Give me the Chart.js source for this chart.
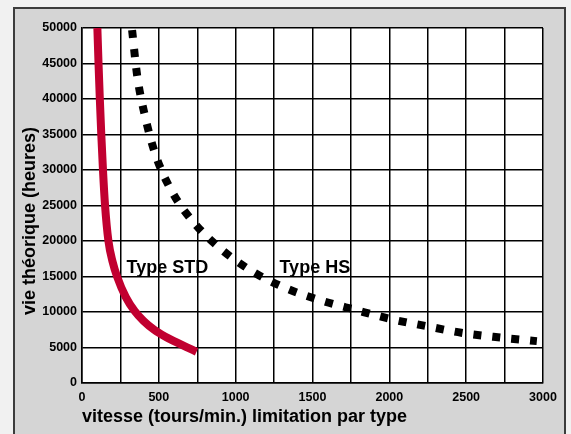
<!DOCTYPE html>
<html>
<head>
<meta charset="utf-8">
<script src="https://cdn.jsdelivr.net/npm/chart.js@4.4.1/dist/chart.umd.min.js"></script>
<style>
  html, body { margin: 0; padding: 0; }
  body { width: 571px; height: 434px; background: #f1f1f1; position: relative; overflow: hidden; }
  #panel {
    position: absolute; left: 13px; top: 7px; width: 549px; height: 440px;
    background: #d5d5d5; border: 2px solid #3c3c3c;
  }
  #wrap { position: absolute; left: 0; top: 0; width: 571px; height: 434px; }
</style>
</head>
<body>
<div id="panel"></div>
<div id="wrap"><canvas id="lifeChart" width="571" height="434"></canvas></div>
<script>
// Type STD (trait rouge plein)
const stdRpm   = [100, 107.5, 116, 125.5, 136.5, 150, 172, 200, 228, 285, 342, 400, 472, 540, 613, 680, 745];
const stdHours = [50000, 45000, 40000, 35000, 30000, 25000, 20000, 17000, 15000, 12100, 10150, 8750, 7460, 6550, 5750, 5050, 4400];

// Type HS (pointillé noir)
const hsRpm   = [326, 359, 411, 476, 587, 732, 912, 1111, 1324, 1545, 1780, 2008, 2236, 2468, 2706, 2960];
const hsHours = [49700, 43300, 37500, 32300, 26900, 22500, 18730, 15680, 13380, 11690, 10300, 9010, 8030, 7080, 6440, 5900];

// axes
const xTickStep = 250;
const xLabelStep = 500;
const yTickStep = 5000;
const xTitle = 'vitesse (tours/min.) limitation par type';
const yTitle = 'vie théorique (heures)';

// étiquettes des courbes (position en valeurs de données)
const curveLabels = ['Type STD', 'Type HS'];
const curveLabelRpm = [290, 1285];
const curveLabelHours = [15500, 15500];

const FONT = '"Liberation Sans", Arial, sans-serif';

function toPoints(xs, ys) {
  return xs.map((x, i) => ({ x: x, y: ys[i] }));
}

// white plot area
const plotBg = {
  id: 'plotBg',
  beforeDraw(chart) {
    const a = chart.chartArea;
    const ctx = chart.ctx;
    ctx.save();
    ctx.fillStyle = '#fff';
    ctx.fillRect(a.left, a.top, a.right - a.left, a.bottom - a.top);
    ctx.restore();
  }
};

// draws the y title and the "Type ..." labels
const textPlugin = {
  id: 'textPlugin',
  afterDatasetsDraw(chart) {
    const ctx = chart.ctx;
    const xs = chart.scales.x;
    const ys = chart.scales.y;
    ctx.save();
    ctx.fillStyle = '#000';
    ctx.font = 'bold 18px ' + FONT;
    ctx.textAlign = 'left';
    ctx.textBaseline = 'alphabetic';
    curveLabels.forEach((txt, i) => {
      ctx.fillText(txt, xs.getPixelForValue(curveLabelRpm[i]), ys.getPixelForValue(curveLabelHours[i]));
    });

    ctx.translate(30, 221);
    ctx.rotate(-Math.PI / 2);
    ctx.textAlign = 'center';
    ctx.textBaseline = 'middle';
    ctx.fillText(yTitle, 0, 0);
    ctx.restore();
  }
};

new Chart(document.getElementById('lifeChart'), {
  type: 'line',
  data: {
    datasets: [
      {
        label: 'Type STD',
        data: toPoints(stdRpm, stdHours),
        borderColor: '#c10030',
        borderWidth: 8,
        borderCapStyle: 'butt',
        pointRadius: 0,
        fill: false,
        cubicInterpolationMode: 'monotone'
      },
      {
        label: 'Type HS',
        data: toPoints(hsRpm, hsHours),
        borderColor: '#000',
        borderWidth: 8,
        borderDash: [8, 11],
        borderCapStyle: 'butt',
        pointRadius: 0,
        fill: false,
        cubicInterpolationMode: 'monotone'
      }
    ]
  },
  options: {
    responsive: false,
    animation: false,
    devicePixelRatio: 1,
    layout: { padding: { top: 28, right: 28, bottom: 0, left: 0 } },
    plugins: {
      legend: { display: false },
      tooltip: { enabled: false }
    },
    scales: {
      x: {
        type: 'linear',
        min: 0,
        max: 3000,
        grid: { color: '#000', lineWidth: 1.5, drawTicks: false },
        border: { display: true, color: '#000', width: 1.5 },
        ticks: {
          stepSize: xTickStep,
          autoSkip: false,
          maxRotation: 0,
          padding: 7,
          color: '#000',
          font: { family: FONT, size: 12.5, weight: 'bold' },
          callback: (v) => (v % xLabelStep === 0 ? String(v) : '')
        },
        title: {
          display: true,
          text: xTitle,
          align: 'start',
          color: '#000',
          font: { family: FONT, size: 18, weight: 'bold' },
          padding: { top: 0, bottom: 6 }
        },
        afterFit: (scale) => { scale.height = 51; }
      },
      y: {
        type: 'linear',
        min: 0,
        max: 50000,
        grid: { color: '#000', lineWidth: 1.5, drawTicks: false },
        border: { display: true, color: '#000', width: 1.5 },
        ticks: {
          stepSize: yTickStep,
          padding: 5,
          color: '#000',
          font: { family: FONT, size: 12.5, weight: 'bold' },
          callback: (v) => String(v)
        },
        afterFit: (scale) => { scale.width = 82; }
      }
    }
  },
  plugins: [plotBg, textPlugin]
});
</script>
</body>
</html>
